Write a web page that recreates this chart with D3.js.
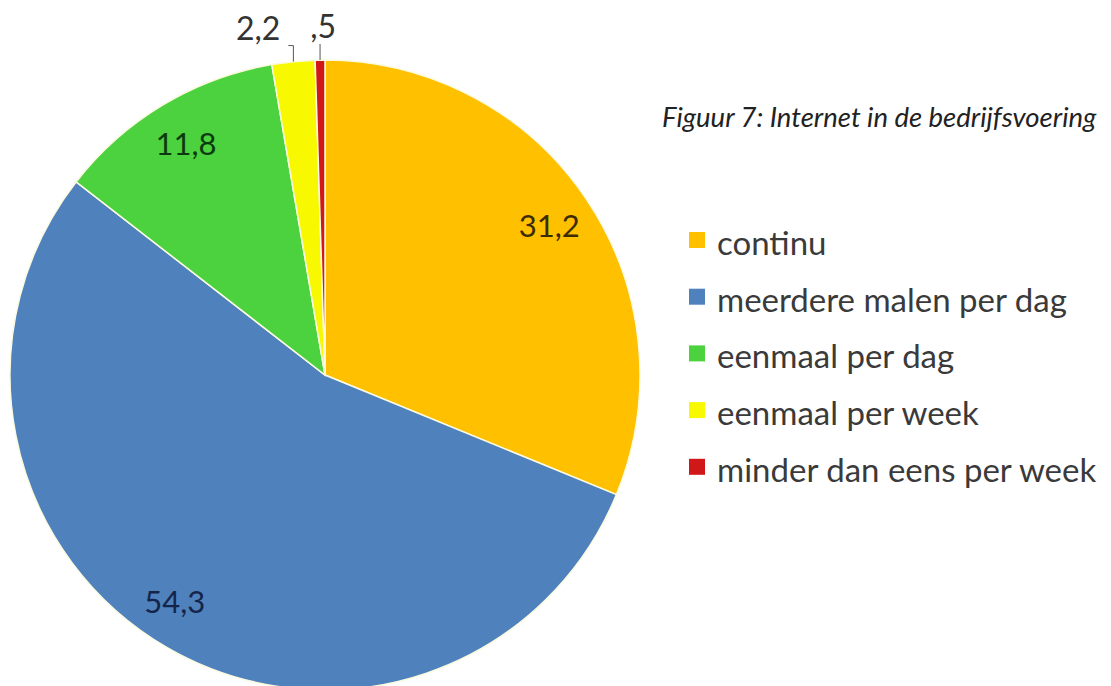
<!DOCTYPE html>
<html>
<head>
<meta charset="utf-8">
<script src="https://cdn.jsdelivr.net/npm/d3@7"></script>
<style>
  body { margin: 0; background: #fff; }
  text { font-family: Lato, "Open Sans", sans-serif; }
</style>
</head>
<body>
<div class="chartContainer"></div>
<script>
const categories = [
  "continu",
  "meerdere malen per dag",
  "eenmaal per dag",
  "eenmaal per week",
  "minder dan eens per week"
];
const values = [31.2, 54.3, 11.8, 2.2, 0.5];
const valueLabels = ["31,2", "54,3", "11,8", "2,2", ",5"];
const colors = ["#FFC000", "#4F81BD", "#4CD23E", "#F8F800", "#D01818"];
const labelColors = ["#3b2c05", "#15254a", "#0c3a10", "#333", "#333"];
const title = "Figuur 7: Internet in de bedrijfsvoering";

const w = 1111;
const h = 686;
const cx = 325;
const cy = 375;
const radius = 315;

const svg = d3
  .select(".chartContainer")
  .append("svg")
  .attr("width", w)
  .attr("height", h);

const pie = d3.pie().sort(null).value((d) => d);
const arcs = pie(values);

const arc = d3.arc().innerRadius(0).outerRadius(radius);
const labelArc = d3.arc().innerRadius(270).outerRadius(270);

const g = svg.append("g").attr("transform", "translate(" + cx + "," + cy + ")");

g.selectAll("path")
  .data(arcs)
  .enter()
  .append("path")
  .attr("d", arc)
  .attr("fill", (d, i) => colors[i])
  .attr("stroke", "#fafae0")
  .attr("stroke-width", 1.5);

// inside labels for the big slices
const big = arcs.filter((d) => d.value > 5);
g.selectAll(".inlabel")
  .data(big)
  .enter()
  .append("text")
  .attr("class", "inlabel")
  .attr("x", (d) => labelArc.centroid(d)[0] - (d.index === 1 ? 15 : 0))
  .attr("y", (d) => labelArc.centroid(d)[1] - (d.index === 1 ? 8 : 0))
  .attr("text-anchor", "middle")
  .attr("dominant-baseline", "central")
  .attr("font-size", 31)
  .attr("fill", (d) => labelColors[d.index])
  .text((d) => valueLabels[d.index]);

// small slices: short leader up from the edge, label above
const small = arcs.filter((d) => d.value <= 5);
small.forEach((d) => {
  const mid = (d.startAngle + d.endAngle) / 2;
  const x0 = Math.sin(mid) * radius;
  const y0 = -Math.cos(mid) * radius;
  const up = 16;
  const hook = d.index === 3 ? 5 : 0;
  g.append("path")
    .attr("d", "M" + x0 + "," + y0 + "V" + (y0 - up) + "h" + -hook)
    .attr("fill", "none")
    .attr("stroke", "#555")
    .attr("stroke-width", 1);
  g.append("text")
    .attr("x", x0 - hook - (d.index === 3 ? 8 : -3))
    .attr("y", y0 - up - 6)
    .attr("text-anchor", d.index === 3 ? "end" : "middle")
    .attr("font-size", 32)
    .attr("fill", "#333")
    .text(valueLabels[d.index]);
});

svg
  .append("text")
  .attr("x", 662)
  .attr("y", 127)
  .attr("font-size", 27.5)
  .attr("font-style", "italic")
  .attr("fill", "#222")
  .text(title);

const legend = svg
  .append("g")
  .selectAll("g")
  .data(categories)
  .enter()
  .append("g")
  .attr("transform", (d, i) => "translate(689," + (240 + i * 56.7) + ")");

legend
  .append("rect")
  .attr("x", 0)
  .attr("y", -8)
  .attr("width", 16)
  .attr("height", 16)
  .attr("fill", (d, i) => colors[i]);

legend
  .append("text")
  .attr("x", 28)
  .attr("y", 2)
  .attr("dominant-baseline", "central")
  .attr("font-size", 33)
  .attr("fill", "#3a3a3a")
  .text((d) => d);
</script>
</body>
</html>
